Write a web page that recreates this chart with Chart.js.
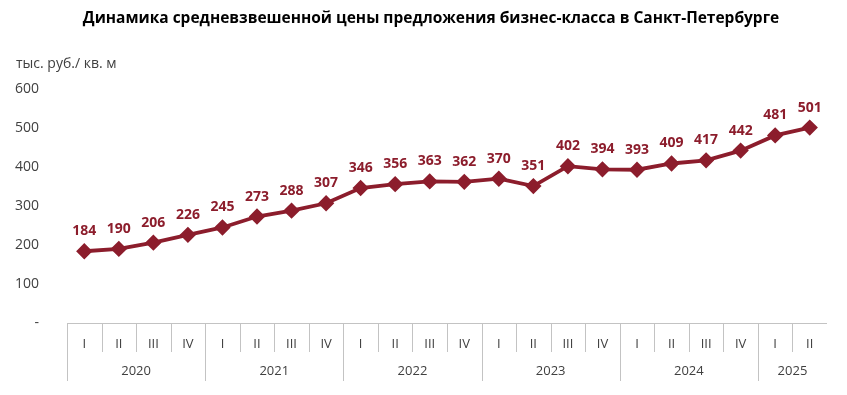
<!DOCTYPE html>
<html>
<head>
<meta charset="utf-8">
<script src="https://cdn.jsdelivr.net/npm/chart.js@4/dist/chart.umd.min.js"></script>
<style>
  html, body { margin: 0; padding: 0; background: #fff; }
</style>
</head>
<body>
<canvas id="chart" width="847" height="395"></canvas>
<script>
// Quarter labels, one per point
const quarters = ['I', 'II', 'III', 'IV', 'I', 'II', 'III', 'IV', 'I', 'II', 'III', 'IV',
                  'I', 'II', 'III', 'IV', 'I', 'II', 'III', 'IV', 'I', 'II'];
// Years and how many quarters each one spans
const years = ['2020', '2021', '2022', '2023', '2024', '2025'];
const quartersPerYear = [4, 4, 4, 4, 4, 2];
// Weighted average price, thousand rub per sq. m
const prices = [184, 190, 206, 226, 245, 273, 288, 307, 346, 356, 363, 362,
                370, 351, 402, 394, 393, 409, 417, 442, 481, 501];
const yTicks = [0, 100, 200, 300, 400, 500, 600];

const TITLE = 'Динамика средневзвешенной цены предложения бизнес-класса в Санкт-Петербурге';
const UNIT = 'тыс. руб./ кв. м';

const FONT = '"Open Sans", "Noto Sans", sans-serif';
const LINE_COLOR = '#8c1d2c';
const TEXT_COLOR = '#404040';
const AXIS_COLOR = '#c3c3c3';

// draws the point values above each marker
const valueLabels = {
    id: 'valueLabels',
    afterDatasetsDraw(chart) {
        const ctx = chart.ctx;
        const meta = chart.getDatasetMeta(0);
        ctx.save();
        ctx.font = 'bold 14px ' + FONT;
        ctx.fillStyle = LINE_COLOR;
        ctx.textAlign = 'center';
        ctx.textBaseline = 'middle';
        meta.data.forEach(function(pt, i) {
            ctx.fillText(String(prices[i]), pt.x, pt.y - 20);
        });
        ctx.restore();
    }
};

// two-level category axis, title and unit label
const groupedAxis = {
    id: 'groupedAxis',
    afterDraw(chart) {
        const ctx = chart.ctx;
        const x = chart.scales.x;
        const area = chart.chartArea;
        const bottom = area.bottom;
        const step = x.getPixelForValue(1) - x.getPixelForValue(0);
        const edge = function(i) { return x.getPixelForValue(i) - step / 2; };

        ctx.save();
        ctx.strokeStyle = AXIS_COLOR;
        ctx.lineWidth = 1;

        // top line of the axis
        ctx.beginPath();
        ctx.moveTo(area.left, bottom + 0.5);
        ctx.lineTo(area.right, bottom + 0.5);
        ctx.stroke();

        // year starts
        const starts = [];
        let idx = 0;
        quartersPerYear.forEach(function(n) { starts.push(idx); idx += n; });

        // short separators between quarters
        for (let i = 1; i < quarters.length; i++) {
            if (starts.indexOf(i) !== -1) continue;
            const px = Math.round(edge(i)) + 0.5;
            ctx.beginPath();
            ctx.moveTo(px, bottom);
            ctx.lineTo(px, bottom + 29);
            ctx.stroke();
        }

        // long separators between years
        starts.forEach(function(s) {
            const px = Math.round(edge(s)) + 0.5;
            ctx.beginPath();
            ctx.moveTo(px, bottom);
            ctx.lineTo(px, bottom + 58);
            ctx.stroke();
        });

        // year labels
        ctx.font = '13px ' + FONT;
        ctx.fillStyle = TEXT_COLOR;
        ctx.textAlign = 'center';
        ctx.textBaseline = 'middle';
        starts.forEach(function(s, k) {
            const mid = (edge(s) + edge(s + quartersPerYear[k])) / 2;
            ctx.fillText(years[k], mid, bottom + 48);
        });

        // unit label
        ctx.font = '14px ' + FONT;
        ctx.textAlign = 'left';
        ctx.fillText(UNIT, 16, 64);

        // title
        ctx.font = 'bold 15.5px ' + FONT;
        ctx.fillStyle = '#000';
        ctx.textAlign = 'center';
        ctx.fillText(TITLE, 431, 19);
        ctx.restore();
    }
};

new Chart(document.getElementById('chart').getContext('2d'), {
    type: 'line',
    data: {
        labels: quarters,
        datasets: [{
            data: prices,
            borderColor: LINE_COLOR,
            backgroundColor: LINE_COLOR,
            borderWidth: 3.8,
            pointStyle: 'rectRot',
            pointRadius: 5.5,
            pointHoverRadius: 5.5,
            tension: 0
        }]
    },
    options: {
        responsive: false,
        animation: false,
        layout: { padding: { left: 0, right: 20, top: 89, bottom: 0 } },
        plugins: {
            legend: { display: false },
            tooltip: { enabled: false },
            title: { display: false }
        },
        scales: {
            x: {
                offset: true,
                grid: { display: false },
                border: { display: false },
                ticks: {
                    color: TEXT_COLOR,
                    font: { family: FONT, size: 13 },
                    padding: 5,
                    maxRotation: 0,
                    autoSkip: false
                },
                afterFit: function(scale) { scale.height = 72; }
            },
            y: {
                min: 0,
                max: 600,
                afterBuildTicks: function(scale) {
                    scale.ticks = yTicks.map(function(v) { return { value: v }; });
                },
                grid: { display: false },
                border: { display: false },
                ticks: {
                    color: TEXT_COLOR,
                    font: { family: FONT, size: 14 },
                    padding: 20,
                    callback: function(v) { return v === 0 ? '-' : v; }
                },
                afterFit: function(scale) { scale.width = 67; }
            }
        }
    },
    plugins: [valueLabels, groupedAxis]
});
</script>
</body>
</html>
